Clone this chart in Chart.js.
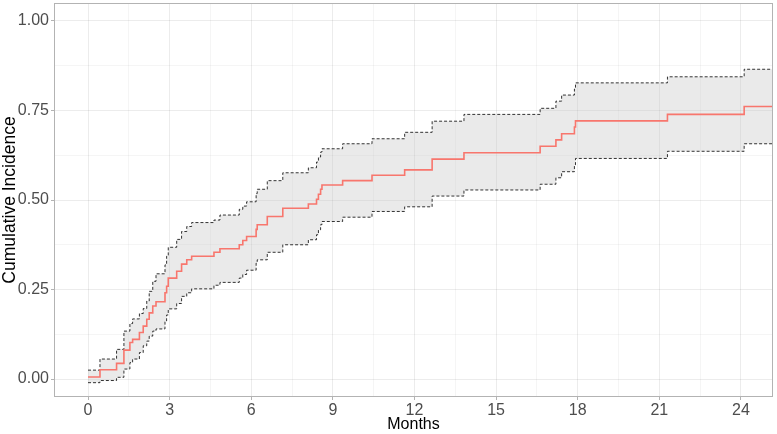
<!DOCTYPE html>
<html>
<head>
<meta charset="utf-8">
<script src="https://cdn.jsdelivr.net/npm/chart.js@4.4.0/dist/chart.umd.min.js"></script>
<style>
  html, body { margin: 0; padding: 0; background: #ffffff; }
  #wrap { width: 777px; height: 434px; position: relative; }
</style>
</head>
<body>
<div id="wrap"><canvas id="c"></canvas></div>
<script>
// Step times (months)
const months = [0, 0.44, 1.05, 1.32, 1.54, 1.64, 1.89, 2.03, 2.16, 2.25, 2.38, 2.5, 2.83, 2.89, 2.95,
  3.26, 3.44, 3.63, 3.81, 4.63, 4.85, 5.56, 5.69, 5.83, 6.18, 6.22, 6.59, 7.16, 8.1, 8.4, 8.47,
  8.55, 8.6, 9.36, 10.44, 11.64, 12.65, 13.82, 16.62, 17.2, 17.41, 17.88, 17.92, 21.3, 24.12, 25.2];
// Cumulative incidence estimate
const incidence = [0.006, 0.026, 0.044, 0.081, 0.102, 0.111, 0.130, 0.148, 0.167, 0.185, 0.204, 0.216, 0.241, 0.259, 0.282,
  0.301, 0.321, 0.333, 0.343, 0.354, 0.364, 0.375, 0.387, 0.398, 0.418, 0.431, 0.454, 0.477, 0.489, 0.502, 0.516,
  0.530, 0.542, 0.554, 0.569, 0.584, 0.614, 0.632, 0.650, 0.668, 0.685, 0.704, 0.721, 0.739, 0.761, 0.761];
// Upper confidence bound
const upper = [0.025, 0.056, 0.083, 0.134, 0.155, 0.168, 0.183, 0.197, 0.218, 0.245, 0.273, 0.294, 0.319, 0.343, 0.368,
  0.390, 0.412, 0.426, 0.437, 0.444, 0.458, 0.474, 0.483, 0.495, 0.518, 0.530, 0.554, 0.576, 0.590, 0.606, 0.620,
  0.634, 0.643, 0.657, 0.671, 0.689, 0.720, 0.739, 0.756, 0.776, 0.793, 0.810, 0.827, 0.844, 0.865, 0.865];
// Lower confidence bound
const lower = [-0.010, -0.004, 0.005, 0.028, 0.046, 0.056, 0.074, 0.093, 0.106, 0.120, 0.134, 0.140, 0.162, 0.179, 0.196,
  0.211, 0.231, 0.241, 0.252, 0.262, 0.270, 0.282, 0.292, 0.304, 0.324, 0.333, 0.354, 0.375, 0.389, 0.403, 0.417,
  0.431, 0.440, 0.452, 0.468, 0.481, 0.511, 0.528, 0.544, 0.562, 0.579, 0.598, 0.616, 0.636, 0.657, 0.657];

const xMajor = [0, 3, 6, 9, 12, 15, 18, 21, 24];
const xMinor = [1.5, 4.5, 7.5, 10.5, 13.5, 16.5, 19.5, 22.5];
const yMajor = [0, 0.25, 0.5, 0.75, 1.0];
const yMinor = [0.125, 0.375, 0.625, 0.875];

const toPts = (ys) => months.map((m, i) => ({ x: m, y: ys[i] }));

const majorGrid = 'rgba(0,0,0,0.075)';
const minorGrid = 'rgba(0,0,0,0.04)';
const tickGrey = '#B3B3B3';
const fam = "'Liberation Sans', Arial, sans-serif";

const borderPlugin = {
  id: 'panelBorder',
  afterDraw(chart) {
    const a = chart.chartArea, ctx = chart.ctx;
    ctx.save();
    ctx.strokeStyle = tickGrey;
    ctx.lineWidth = 1;
    ctx.strokeRect(a.left + 0.5, a.top + 0.5, a.right - a.left - 1, a.bottom - a.top - 1);
    ctx.restore();
  }
};

function setTicks(majors, minors) {
  return function (scale) {
    const all = majors.map(v => ({ value: v, major: true })).concat(minors.map(v => ({ value: v, major: false })));
    all.sort((a, b) => a.value - b.value);
    scale.ticks = all;
  };
}
const isMajor = (ctx) => ctx.tick && ctx.tick.major;

new Chart(document.getElementById('c'), {
  type: 'line',
  data: {
    datasets: [
      {
        label: 'Cumulative Incidence',
        data: toPts(incidence),
        borderColor: '#F8766D',
        borderWidth: 1.6,
        pointRadius: 0,
        stepped: 'before',
        fill: false,
        order: 0
      },
      {
        label: 'Upper',
        data: toPts(upper),
        borderColor: '#000000',
        borderWidth: 0.8,
        borderDash: [3, 2],
        pointRadius: 0,
        stepped: 'before',
        fill: false,
        order: 1
      },
      {
        label: 'Lower',
        data: toPts(lower),
        borderColor: '#000000',
        borderWidth: 0.8,
        borderDash: [3, 2],
        pointRadius: 0,
        stepped: 'before',
        fill: '-1',
        backgroundColor: 'rgba(190,190,190,0.32)',
        order: 2
      }
    ]
  },
  options: {
    responsive: true,
    maintainAspectRatio: false,
    animation: false,
    devicePixelRatio: 1,
    layout: { padding: { top: 3, right: 4, left: 0, bottom: 0 } },
    plugins: { legend: { display: false }, tooltip: { enabled: false } },
    scales: {
      x: {
        type: 'linear',
        min: -1.25,
        max: 25.18,
        afterBuildTicks: setTicks(xMajor, xMinor),
        afterFit: (s) => { s.height = 37; s.paddingLeft = 0; s.paddingRight = 0; },
        border: { display: false },
        grid: {
          color: (c) => isMajor(c) ? majorGrid : minorGrid,
          tickColor: (c) => isMajor(c) ? tickGrey : 'rgba(0,0,0,0)',
          tickLength: 3,
          drawTicks: true
        },
        ticks: {
          autoSkip: false,
          maxRotation: 0,
          padding: 1,
          color: '#4D4D4D',
          font: { family: fam, size: 16 },
          callback: function (v, i, ticks) { return ticks[i].major ? String(v) : ''; }
        },
        title: {
          display: true,
          text: 'Months',
          color: '#000000',
          font: { family: fam, size: 16, lineHeight: 1.1 },
          padding: { top: 0, bottom: 1 }
        }
      },
      y: {
        type: 'linear',
        min: -0.05,
        max: 1.05,
        afterBuildTicks: setTicks(yMajor, yMinor),
        afterFit: (s) => { s.width = 54; s.paddingTop = 0; s.paddingBottom = 0; },
        border: { display: false },
        grid: {
          color: (c) => isMajor(c) ? majorGrid : minorGrid,
          tickColor: (c) => isMajor(c) ? tickGrey : 'rgba(0,0,0,0)',
          tickLength: 3,
          drawTicks: true
        },
        ticks: {
          autoSkip: false,
          padding: 2,
          color: '#4D4D4D',
          font: { family: fam, size: 16 },
          callback: function (v, i, ticks) { return ticks[i].major ? Number(v).toFixed(2) : ''; }
        },
        title: {
          display: true,
          text: 'Cumulative Incidence',
          color: '#000000',
          font: { family: fam, size: 17.5, lineHeight: 1.0 },
          padding: { top: 1, bottom: 0 }
        }
      }
    }
  },
  plugins: [borderPlugin]
});
</script>
</body>
</html>
